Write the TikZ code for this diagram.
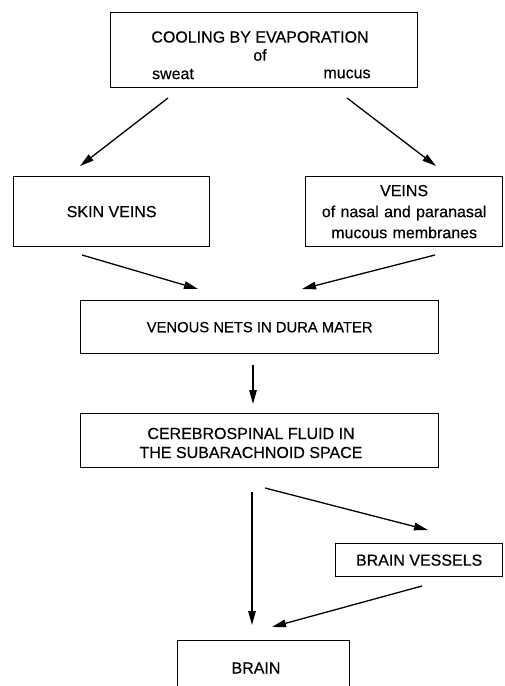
\documentclass[tikz,border=0pt]{standalone}
\usepackage{fontspec}
\setmainfont{Liberation Sans}[FakeBold=0.4]
\usetikzlibrary{arrows.meta}
\begin{document}
\begin{tikzpicture}[x=1pt,y=-1pt,
  box/.style={draw, line width=1.3pt, anchor=north west, inner sep=0pt, font=\fontsize{16}{19}\selectfont, align=center},
  lbl/.style={inner sep=0pt, font=\fontsize{16}{19}\selectfont, align=center},
  arr/.style={line width=1.3pt, -{Triangle[length=14pt,width=7.5pt]}}]
\useasboundingbox (0,0) rectangle (505,686);
\clip (0,0) rectangle (505,686);
% top box
\node[box, minimum width=307pt, minimum height=75pt] (top) at (110,12) {};
\node[lbl] (cool) at (260,37) {COOLING BY EVAPORATION};
\node[lbl] (of) at (260,55) {of};
\node[lbl] (sweat) at (173,74) {sweat};
\node[lbl] (mucus) at (347,74) {mucus};
% second row
\node[box, minimum width=196pt, minimum height=70pt] (skin) at (13,176) {SKIN VEINS};
\node[box, minimum width=197pt, minimum height=70pt, text width=190pt, font=\fontsize{16}{21}\selectfont] (veins) at (305,176) {VEINS\\of nasal and paranasal\\mucous membranes};
% venous nets
\node[box, minimum width=358pt, minimum height=53pt, font=\fontsize{14.8}{18}\selectfont] (venous) at (80,300) {VENOUS NETS IN DURA MATER};
% CSF
\node[box, minimum width=358pt, minimum height=54pt] (csf) at (80,413) {};
\node[lbl, font=\fontsize{16}{19}\selectfont] (csftxt) at (251,443) {CEREBROSPINAL FLUID IN\\THE SUBARACHNOID SPACE};
% brain vessels
\node[box, minimum width=167pt, minimum height=33pt] (vessels) at (335,543) {BRAIN VESSELS};
% brain
\node[box, minimum width=172pt, minimum height=60pt] (brain) at (177,640) {};
\node[lbl] (braintxt) at (256,668) {BRAIN};
% arrow ends
\coordinate (a1s) at (168,98);  \coordinate (a1e) at (80,166);
\coordinate (a2s) at (347,98);  \coordinate (a2e) at (436,166);
\coordinate (a3s) at (82,255);  \coordinate (a3e) at (198,289);
\coordinate (a4s) at (435,255); \coordinate (a4e) at (302,289);
\coordinate (a5s) at (253,365); \coordinate (a5e) at (253,404);
\coordinate (a6s) at (252,492); \coordinate (a6e) at (252,625);
\coordinate (a7s) at (265,488); \coordinate (a7e) at (428,530);
\coordinate (a8s) at (422,586); \coordinate (a8e) at (272,627);
\draw[arr] (a1s) -- (a1e);
\draw[arr] (a2s) -- (a2e);
\draw[arr] (a3s) -- (a3e);
\draw[arr] (a4s) -- (a4e);
\draw[arr] (a5s) -- (a5e);
\draw[arr] (a6s) -- (a6e);
\draw[arr] (a7s) -- (a7e);
\draw[arr] (a8s) -- (a8e);
\end{tikzpicture}
\end{document}
